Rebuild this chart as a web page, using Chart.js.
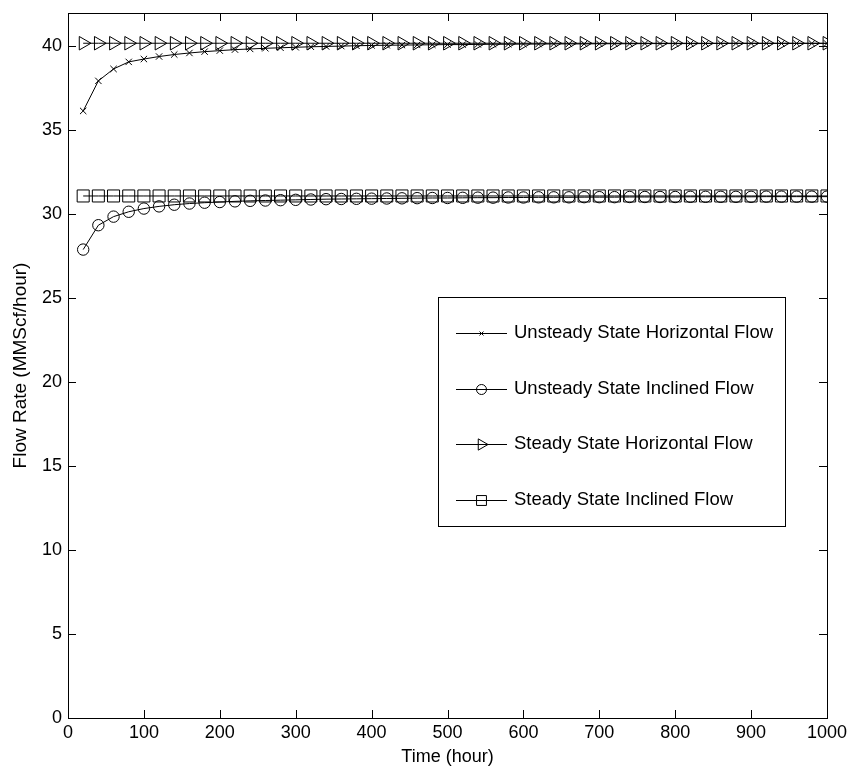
<!DOCTYPE html>
<html>
<head>
<meta charset="utf-8">
<script src="https://cdn.jsdelivr.net/npm/chart.js@4/dist/chart.umd.min.js"></script>
<style>
html,body{margin:0;padding:0;background:#fff;}
#wrap{width:849px;height:766px;position:relative;}
</style>
</head>
<body>
<div id="wrap"><canvas id="c" width="849" height="766"></canvas></div>
<script>
// ---- data ----
const timeHours = [20,40,60,80,100,120,140,160,180,200,220,240,260,280,300,320,340,360,380,400,
  420,440,460,480,500,520,540,560,580,600,620,640,660,680,700,720,740,760,780,800,
  820,840,860,880,900,920,940,960,980,1000];

const unsteadyHorizontal = [36.13,37.92,38.63,39.05,39.22,39.37,39.49,39.58,39.66,39.72,
  39.78,39.82,39.86,39.89,39.92,39.95,39.97,39.99,40.01,40.03,
  40.04,40.05,40.06,40.07,40.08,40.08,40.09,40.10,40.10,40.11,
  40.11,40.12,40.12,40.12,40.13,40.13,40.13,40.14,40.14,40.14,
  40.14,40.14,40.15,40.15,40.15,40.15,40.15,40.15,40.15,40.15];

const unsteadyInclined = [27.88,29.33,29.84,30.13,30.32,30.45,30.55,30.62,30.67,30.71,
  30.75,30.78,30.80,30.82,30.84,30.86,30.88,30.89,30.90,30.91,
  30.92,30.93,30.94,30.95,30.95,30.96,30.97,30.97,30.98,30.98,
  30.99,30.99,30.99,31.00,31.00,31.00,31.01,31.01,31.01,31.01,
  31.02,31.02,31.02,31.02,31.02,31.03,31.03,31.03,31.03,31.03];

const steadyHorizontal = [40.16,40.16,40.16,40.16,40.16,40.16,40.16,40.16,40.16,40.16,
  40.16,40.16,40.16,40.16,40.16,40.16,40.16,40.16,40.16,40.16,
  40.16,40.16,40.16,40.16,40.16,40.16,40.16,40.16,40.16,40.16,
  40.16,40.16,40.16,40.16,40.16,40.16,40.16,40.16,40.16,40.16,
  40.16,40.16,40.16,40.16,40.16,40.16,40.16,40.16,40.16,40.16];

const steadyInclined = [31.07,31.07,31.07,31.07,31.07,31.07,31.07,31.07,31.07,31.07,
  31.07,31.07,31.07,31.07,31.07,31.07,31.07,31.07,31.07,31.07,
  31.07,31.07,31.07,31.07,31.07,31.07,31.07,31.07,31.07,31.07,
  31.07,31.07,31.07,31.07,31.07,31.07,31.07,31.07,31.07,31.07,
  31.07,31.07,31.07,31.07,31.07,31.07,31.07,31.07,31.07,31.07];

const seriesNames = ['Unsteady State Horizontal Flow','Unsteady State Inclined Flow',
  'Steady State Horizontal Flow','Steady State Inclined Flow'];
const xTickValues = [0,100,200,300,400,500,600,700,800,900,1000];
const yTickValues = [0,5,10,15,20,25,30,35,40];
const xTitle = 'Time (hour)';
const yTitle = 'Flow Rate (MMScf/hour)';

// ---- chart ----
const FONT = '"Liberation Sans", Arial, Helvetica, sans-serif';
const toPts = (ys) => timeHours.map((t,i)=>({x:t,y:ys[i]}));

function ds(label, ys, style, radius, rotation){
  return {
    label, data: toPts(ys),
    borderColor:'#000', borderWidth:1,
    pointStyle: style, pointRadius: radius, pointRotation: rotation||0,
    pointBorderColor:'#000', pointBackgroundColor:'rgba(0,0,0,0)', pointBorderWidth:1,
    pointHoverRadius: radius, tension:0, fill:false
  };
}

const datasets = [
  ds(seriesNames[2], steadyHorizontal, 'triangle', 7.8, 90),
  ds(seriesNames[3], steadyInclined, 'rect', 8.5, 0),
  ds(seriesNames[0], unsteadyHorizontal, 'crossRot', 4.5, 0),
  ds(seriesNames[1], unsteadyInclined, 'circle', 5.7, 0)
];

const frame = {
  id:'frame',
  afterDraw(chart){
    const {ctx, chartArea:a, scales:{x, y}} = chart;
    ctx.save();
    ctx.strokeStyle='#000'; ctx.lineWidth=1;
    ctx.strokeRect(Math.round(a.left)+0.5, Math.round(a.top)+0.5,
      Math.round(a.right-a.left), Math.round(a.bottom-a.top));
    const L=8;
    ctx.beginPath();
    xTickValues.forEach(v=>{
      const px = Math.round(x.getPixelForValue(v))+0.5;
      ctx.moveTo(px,a.bottom); ctx.lineTo(px,a.bottom-L);
      ctx.moveTo(px,a.top); ctx.lineTo(px,a.top+L);
    });
    yTickValues.forEach(v=>{
      const py = Math.round(y.getPixelForValue(v))+0.5;
      ctx.moveTo(a.left,py); ctx.lineTo(a.left+L,py);
      ctx.moveTo(a.right,py); ctx.lineTo(a.right-L,py);
    });
    ctx.stroke();

    // legend box inside plot
    const bx=438, by=297, bw=347, bh=229;
    ctx.fillStyle='#fff';
    ctx.fillRect(bx,by,bw,bh);
    ctx.strokeRect(bx+0.5,by+0.5,bw,bh);
    const rows=[333,389,444,500];
    const order=[2,3,0,1]; // dataset indices for UH, UI, SH, SI
    const legendRadius={crossRot:2.8,circle:5,triangle:6.5,rect:7};
    ctx.font='18.5px '+FONT;
    ctx.textBaseline='alphabetic';
    ctx.textAlign='left';
    order.forEach((di,k)=>{
      const d = chart.data.datasets[di];
      const yy = rows[k]+0.5;
      ctx.strokeStyle='#000'; ctx.lineWidth=1;
      ctx.beginPath(); ctx.moveTo(456,yy); ctx.lineTo(507,yy); ctx.stroke();
      ctx.fillStyle='rgba(0,0,0,0)';
      Chart.helpers.drawPoint(ctx,{pointStyle:d.pointStyle,radius:legendRadius[d.pointStyle],
        rotation:d.pointRotation,borderWidth:1},481.5,yy);
      ctx.fillStyle='#000';
      ctx.fillText(d.label,514,rows[k]+5);
    });
    ctx.restore();
  }
};

function zeroPad(s){ s.paddingTop=0; s.paddingBottom=0; s.paddingLeft=0; s.paddingRight=0; }

new Chart(document.getElementById('c'),{
  type:'line',
  data:{datasets},
  options:{
    responsive:false, animation:false, devicePixelRatio:1,
    layout:{autoPadding:false,padding:{top:13,right:22,left:0,bottom:0}},
    plugins:{legend:{display:false},tooltip:{enabled:false}},
    scales:{
      x:{type:'linear',min:0,max:1000,
        afterFit(s){s.height=48; zeroPad(s);},
        grid:{display:false,drawTicks:false},border:{display:false},
        afterBuildTicks(s){s.ticks=xTickValues.map(v=>({value:v}));},
        ticks:{color:'#000',font:{family:FONT,size:18},padding:4,maxRotation:0,autoSkip:false,
          callback:(v)=>String(v)},
        title:{display:true,text:xTitle,color:'#000',font:{family:FONT,size:18},padding:{top:0,bottom:-2}}
      },
      y:{type:'linear',min:0,max:41.96,
        afterFit(s){s.width=68; zeroPad(s);},
        grid:{display:false,drawTicks:false},border:{display:false},
        afterBuildTicks(s){s.ticks=yTickValues.map(v=>({value:v}));},
        ticks:{color:'#000',font:{family:FONT,size:18},padding:6,autoSkip:false,
          callback:(v)=>String(v)},
        title:{display:true,text:yTitle,color:'#000',font:{family:FONT,size:19},padding:{top:9,bottom:0}}
      }
    }
  },
  plugins:[frame]
});
</script>
</body>
</html>
